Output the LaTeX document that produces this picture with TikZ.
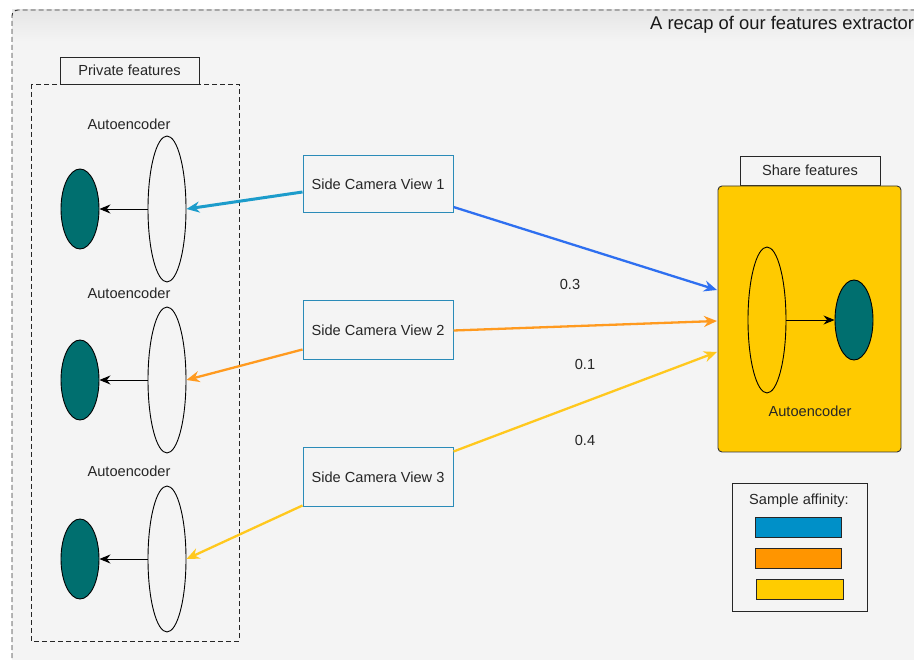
\documentclass[tikz,border=0pt]{standalone}
\usepackage{fontspec}
\setmainfont{Liberation Sans}
\usetikzlibrary{arrows.meta,shapes.geometric}
\definecolor{bgfill}{HTML}{F4F4F4}
\definecolor{bandfill}{HTML}{E6E6E6}
\definecolor{tealfill}{HTML}{006F6F}
\definecolor{camborder}{HTML}{2A8BB8}
\definecolor{cyanarrow}{HTML}{1C9CCB}
\definecolor{bluearrow}{HTML}{2E6FF0}
\definecolor{orangearrow}{HTML}{FF9A1F}
\definecolor{yellowarrow}{HTML}{FFC81E}
\definecolor{sharefill}{HTML}{FFCA00}
\definecolor{legblue}{HTML}{0090C8}
\definecolor{legorange}{HTML}{FF9500}
\definecolor{legyellow}{HTML}{FFCC00}
\tikzset{
  lbl/.style={font=\fontsize{14.6}{17}\selectfont, text=black!85},
  tagbox/.style={draw=black!85, fill=bgfill, line width=0.9pt, minimum height=27pt, inner sep=0pt, lbl},
  cambox/.style={draw=camborder, fill=bgfill, line width=1pt, minimum width=150pt, minimum height=57pt, inner sep=0pt, lbl},
  encoder/.style={draw=black, line width=0.9pt, ellipse, minimum width=38pt, minimum height=146pt, inner sep=0pt},
  latent/.style={draw=black, fill=tealfill, line width=0.9pt, ellipse, minimum width=38pt, minimum height=80pt, inner sep=0pt},
  innerarrow/.style={-{Stealth[length=11pt,width=9pt]}, line width=0.9pt, black},
  flow/.style={-{Stealth[length=13pt,width=11pt]}, line width=2.3pt},
  weight/.style={lbl},
  swatch/.style={draw=black!85, line width=0.9pt, minimum width=86pt, minimum height=20pt, inner sep=0pt}
}
\begin{document}
\begin{tikzpicture}[x=1pt,y=-1pt]
\useasboundingbox (0,0) rectangle (914,660);
\clip (0,0) rectangle (914,660);
\fill[white] (0,0) rectangle (914,660);
\fill[bgfill] (12,10) rectangle (930,680);
% title band
\shade[top color=bandfill, bottom color=bgfill] (12,10) rectangle (930,42);
\draw[dash pattern=on 5pt off 3pt, line width=0.9pt, black!80, rounded corners=6pt] (12,690) -- (12,10) -- (940,10);
\node[anchor=west, font=\fontsize{18.4}{21}\selectfont, text=black!90, inner sep=0pt] (title) at (650,25) {A recap of our features extractor};

% private features group
\node[tagbox, minimum width=139pt] (ptag) at (129.5,70.5) {Private features};
\draw[dash pattern=on 5pt off 3pt, line width=0.9pt, black!85] (31,84) rectangle (239,641);

\foreach \i/\y/\ly in {1/209/124, 2/380/293, 3/559/471}{
  \node[lbl] (ae\i) at (129,\ly) {Autoencoder};
  \node[encoder] (enc\i) at (167,\y) {};
  \node[latent] (lat\i) at (80,\y) {};
  \draw[innerarrow] (enc\i.west) -- (lat\i.east);
}

% camera views
\node[cambox] (cam1) at (378,184) {Side Camera View 1};
\node[cambox, minimum height=59pt] (cam2) at (378,330.5) {Side Camera View 2};
\node[cambox, minimum height=59pt] (cam3) at (378,477.5) {Side Camera View 3};

% shared features group
\node[tagbox, minimum width=140pt, minimum height=29pt] (stag) at (810,170.5) {Share features};
\node[draw=black!80, fill=sharefill, line width=0.9pt, rounded corners=4pt, minimum width=183pt, minimum height=266pt, inner sep=0pt] (share) at (809.5,319) {};
\node[encoder] (senc) at (767,320) {};
\node[latent] (slat) at (854,320) {};
\draw[innerarrow] (senc.east) -- (slat.west);
\node[lbl] (sae) at (810,411) {Autoencoder};

% feature flows
\coordinate (in1) at (717,290);
\coordinate (in2) at (717,321);
\coordinate (in3) at (717,352);
\draw[flow, cyanarrow, line width=3pt] (cam1.west) ++(0,8) -- (enc1.east);
\draw[flow, orangearrow] (cam2.west) ++(0,19) -- (enc2.east);
\draw[flow, yellowarrow] (cam3.west) ++(0,28) -- (enc3.east);
\draw[flow, bluearrow] (cam1.east) ++(0,23) -- (in1);
\draw[flow, orangearrow] (cam2.east) -- (in2);
\draw[flow, yellowarrow] (cam3.east) ++(0,-26) -- (in3);

\node[weight] (w1) at (570,284) {0.3};
\node[weight] (w2) at (585,364) {0.1};
\node[weight] (w3) at (585,440) {0.4};

% legend
\node[draw=black!85, fill=bgfill, line width=0.9pt, minimum width=135pt, minimum height=128pt] (legend) at (799.5,547) {};
\node[lbl] (legtitle) at (799,501) {Sample affinity:};
\node[swatch, fill=legblue] (sw1) at (798,527) {};
\node[swatch, fill=legorange] (sw2) at (798,558) {};
\node[swatch, fill=legyellow, minimum width=87pt] (sw3) at (799.5,589) {};
\end{tikzpicture}
\end{document}
